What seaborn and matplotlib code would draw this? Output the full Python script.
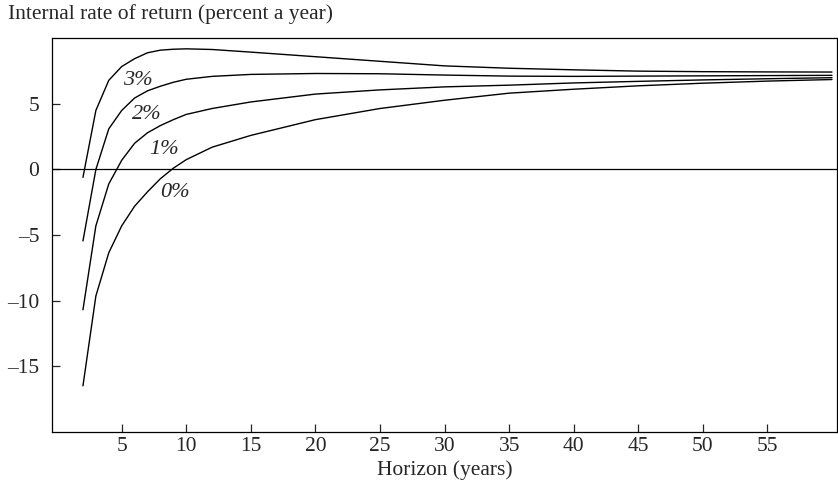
import matplotlib
matplotlib.use("Agg")
import matplotlib.pyplot as plt
import pandas as pd
import seaborn as sns

# horizon (years) at which the curves were read
horizon = [2, 3, 4, 5, 6, 7, 8, 9, 10, 12, 15, 20, 25, 30, 35, 40, 45, 50, 55, 60]

# internal rate of return (percent a year), one list per curve
irr_3pct = [-0.6, 4.5, 6.8, 7.85, 8.45, 8.9, 9.1, 9.17, 9.2, 9.15, 8.95, 8.6, 8.25,
            7.9, 7.72, 7.6, 7.5, 7.46, 7.44, 7.43]
irr_2pct = [-5.45, 0.0, 3.1, 4.5, 5.45, 6.0, 6.35, 6.65, 6.88, 7.1, 7.25, 7.32, 7.3,
            7.2, 7.12, 7.1, 7.12, 7.14, 7.16, 7.18]
irr_1pct = [-10.7, -4.3, -1.1, 0.7, 2.0, 2.8, 3.35, 3.8, 4.2, 4.65, 5.15, 5.75, 6.07,
            6.3, 6.43, 6.6, 6.72, 6.83, 6.92, 7.0]
irr_0pct = [-16.5, -9.65, -6.35, -4.3, -2.8, -1.7, -0.7, 0.1, 0.75, 1.7, 2.6, 3.8, 4.65,
            5.28, 5.82, 6.12, 6.38, 6.58, 6.74, 6.86]

rate_labels = ["3%", "2%", "1%", "0%"]
# where each curve label sits (horizon, irr)
label_x = [6.25, 6.95, 8.3, 9.1]
label_y = [6.76, 4.17, 1.55, -1.78]

xticks = [5, 10, 15, 20, 25, 30, 35, 40, 45, 50, 55]
yticks = [-15, -10, -5, 0, 5]

frames = []
for rate, values in zip(rate_labels, [irr_3pct, irr_2pct, irr_1pct, irr_0pct]):
    frames.append(pd.DataFrame({"horizon": horizon, "irr": values, "rate": rate}))
df = pd.concat(frames, ignore_index=True)

sns.set_style("ticks")
plt.rcParams["font.family"] = ["Liberation Serif", "DejaVu Serif"]

fig = plt.figure(figsize=(8.38, 4.98), dpi=100)
ax = fig.add_axes([0.062, 0.133, 0.937, 0.790])

sns.lineplot(
    data=df, x="horizon", y="irr", hue="rate",
    palette={r: "black" for r in rate_labels},
    estimator=None, sort=False, legend=False, linewidth=1.0, ax=ax,
)
ax.axhline(0, color="black", linewidth=0.9)

for lab, lx, ly in zip(rate_labels, label_x, label_y):
    ax.text(lx, ly, lab, fontsize=16, style="italic", ha="center", va="center")

ax.set_xlim(-0.4, 60.4)
ax.set_ylim(-20, 10)
ax.set_xticks(xticks)
ax.set_yticks(yticks)
ax.set_yticklabels([f"\u2013{abs(t)}" if t < 0 else str(t) for t in yticks])
ax.tick_params(direction="in", length=6, width=0.9, labelsize=15.5)
ax.tick_params(axis="y", pad=9)
ax.tick_params(axis="x", pad=4)
for side in ["top", "right", "bottom", "left"]:
    ax.spines[side].set_visible(True)
    ax.spines[side].set_linewidth(0.9)
    ax.spines[side].set_color("black")

ax.set_xlabel("Horizon (years)", fontsize=15.5, labelpad=3)
ax.set_ylabel("")
fig.text(0.009, 0.971, "Internal rate of return (percent a year)", fontsize=15.5,
         ha="left", va="center")

fig.savefig("out.png", dpi=100)
